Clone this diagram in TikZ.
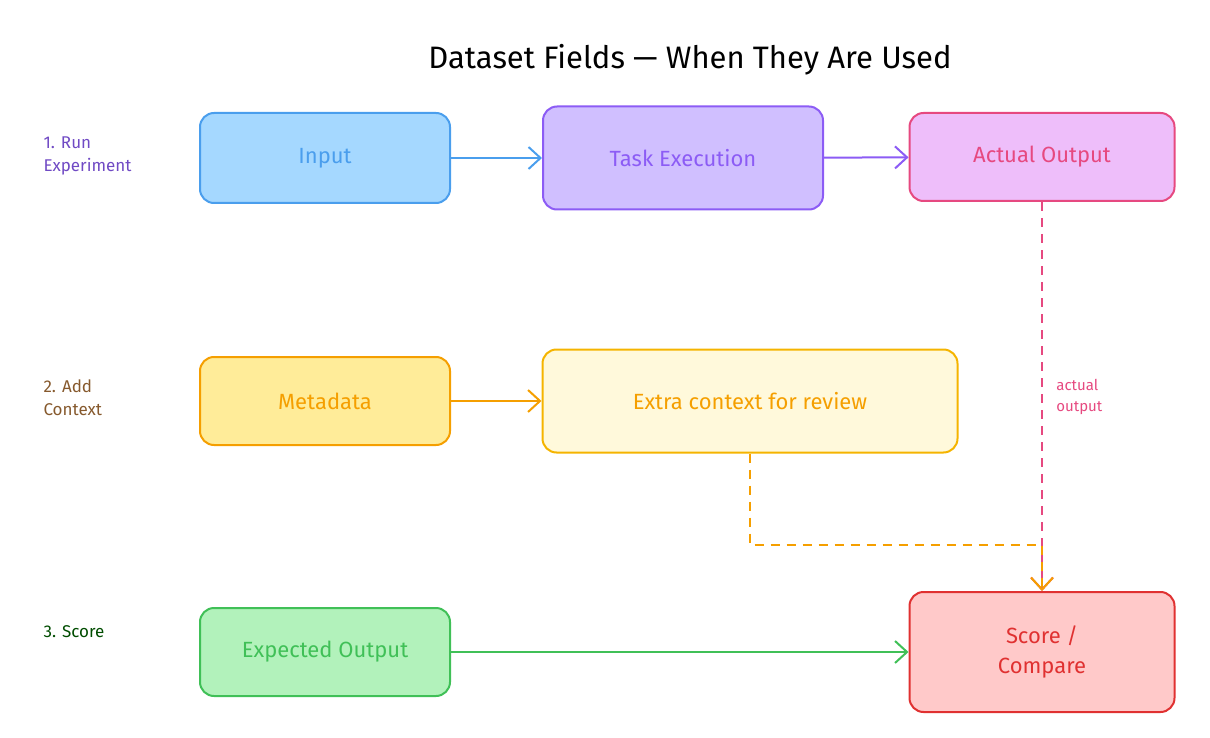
\documentclass[tikz,border=0pt]{standalone}
\usepackage{fontspec}
\setmainfont{Fira Sans}
\usetikzlibrary{arrows.meta}
\definecolor{bIn}{HTML}{A5D8FF}\definecolor{sIn}{HTML}{4A9EED}
\definecolor{bTa}{HTML}{D0BFFF}\definecolor{sTa}{HTML}{8C5CF5}
\definecolor{bAc}{HTML}{EEBEFA}\definecolor{sAc}{HTML}{E64980}
\definecolor{bMe}{HTML}{FFEC99}\definecolor{sMe}{HTML}{F59F00}
\definecolor{bEx}{HTML}{FFF9DB}\definecolor{sEx}{HTML}{F5B400}
\definecolor{bEo}{HTML}{B2F2BB}\definecolor{sEo}{HTML}{40C057}
\definecolor{bSc}{HTML}{FFC9C9}\definecolor{sSc}{HTML}{E03131}
\begin{document}
\begin{tikzpicture}[x=1pt,y=-1pt,
 box/.style={draw=#1,line width=2pt,rounded corners=14pt,inner sep=0pt,font=\fontsize{22}{30}\selectfont,text=#1,align=center},
 arr/.style={line width=2pt,-{Straight Barb[length=12pt,width=22pt]}},
 lab/.style={font=\fontsize{17}{23}\selectfont,align=left,anchor=west}]
\useasboundingbox (0,0) rectangle (1210,738);
\node[font=\fontsize{31}{36}\selectfont] (title) at (690,60) {Dataset Fields — When They Are Used};
\node[lab,text=sTa!80!black] (l1) at (40,156) {1. Run\\Experiment};
\node[lab,text=brown!70!black] (l2) at (40,398) {2. Add\\Context};
\node[lab,text=green!30!black] (l3) at (40,632) {3. Score};
\node[box=sIn,fill=bIn,minimum width=250pt,minimum height=90pt] (in) at (325,158) {Input};
\node[box=sTa,fill=bTa,minimum width=280pt,minimum height=103pt] (ta) at (683,158) {Task Execution};
\node[box=sAc,fill=bAc,minimum width=265pt,minimum height=88pt] (ac) at (1042,157) {Actual Output};
\node[box=sMe,fill=bMe,minimum width=250pt,minimum height=88pt] (me) at (325,401) {Metadata};
\node[box=sEx,fill=bEx,minimum width=415pt,minimum height=103pt,text=sMe] (ex) at (750,401) {Extra context for review};
\node[box=sEo,fill=bEo,minimum width=250pt,minimum height=88pt] (eo) at (325,652) {Expected Output};
\node[box=sSc,fill=bSc,minimum width=265pt,minimum height=120pt] (sc) at (1042,652) {Score /\\Compare};
\draw[arr,sIn] (in) -- (ta);
\draw[arr,sTa] (ta) -- (ac);
\draw[arr,sMe] (me) -- (ex);
\draw[arr,sEo] (eo) -- (sc);
\draw[arr,sAc,dashed,dash pattern=on 9pt off 7pt] (ac.south) -- (sc.north) node[pos=0.5,lab,right=10pt,text=sAc,font=\fontsize{15}{21}\selectfont] {actual\\output};
\coordinate (c1) at (750,545);
\coordinate (c2) at (1042,545);
\draw[arr,sMe,dashed,dash pattern=on 9pt off 7pt] (ex.south) -- (c1) -- (c2) -- (sc.north);
\end{tikzpicture}
\end{document}
